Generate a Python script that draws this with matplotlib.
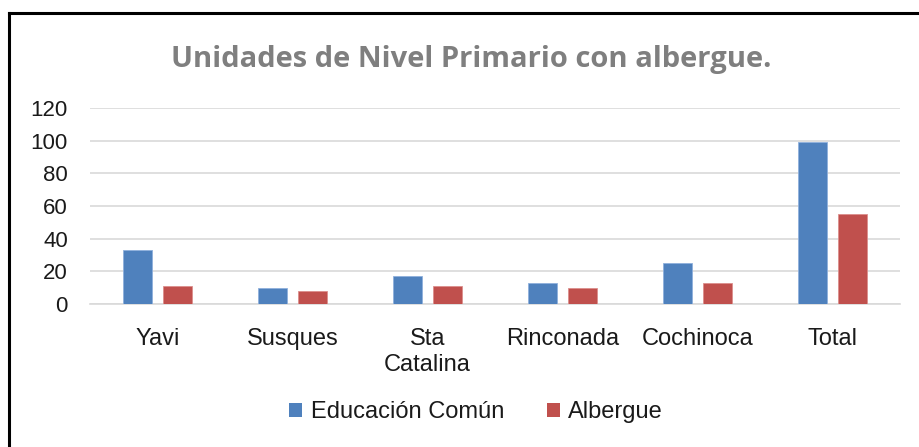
#!/usr/bin/env python3
"""
Unidades de Nivel Primario con albergue - grouped bar chart.
"""

import matplotlib
matplotlib.use('Agg')
import matplotlib.pyplot as plt
from matplotlib.lines import Line2D
from matplotlib.patches import Patch
import numpy as np

# Data
categories = ['Yavi', 'Susques', 'Sta\nCatalina', 'Rinconada', 'Cochinoca', 'Total']
educacion_comun = [33, 10, 17, 13, 25, 99]
albergue = [11, 8, 11, 10, 13, 55]
yticks = [0, 20, 40, 60, 80, 100, 120]

BLUE = '#4f81bd'
RED = '#c0504d'


def main():
    plt.rcParams['font.family'] = ['Liberation Sans', 'DejaVu Sans']

    fig = plt.figure(figsize=(9.2, 4.47), dpi=100)
    ax = fig.add_axes([90 / 920, 143 / 447, 810 / 920, 196 / 447])

    x = np.arange(len(categories))
    width = 0.215
    offset = 0.145
    ax.bar(x - offset, educacion_comun, width, color=BLUE,
           edgecolor='#8fb0dc', linewidth=0.6, zorder=3)
    ax.bar(x + offset, albergue, width, color=RED,
           edgecolor='#dc8f8d', linewidth=0.6, zorder=3)

    ax.set_xlim(-0.5, len(categories) - 0.5)
    ax.set_ylim(0, 120)
    ax.set_yticks(yticks)
    ax.set_xticks(x)
    ax.set_xticklabels(categories, fontsize=17, color='#1a1a1a', linespacing=1.25)
    ax.tick_params(axis='y', labelsize=16, labelcolor='#1a1a1a', length=0, pad=16)
    ax.tick_params(axis='x', length=0, pad=17)

    ax.grid(axis='y', color='#d9d9d9', linewidth=1.2, zorder=0)
    for side in ['top', 'right', 'left']:
        ax.spines[side].set_visible(False)
    ax.spines['bottom'].set_color('#d9d9d9')
    ax.spines['bottom'].set_linewidth(1.2)

    fig.text(471 / 920, 1 - 60 / 447, 'Unidades de Nivel Primario con albergue.',
             ha='center', va='center', fontsize=21, fontweight='bold',
             color='#7f7f7f', family=['Open Sans', 'DejaVu Sans'])

    legend_elements = [
        Patch(facecolor=BLUE, label='Educación Común'),
        Patch(facecolor=RED, label='Albergue'),
    ]
    fig.legend(handles=legend_elements, loc='center', ncol=2,
               bbox_to_anchor=(476 / 920, 1 - 412 / 447), frameon=False,
               fontsize=17, handlelength=0.55, handleheight=0.55,
               handletextpad=0.35, columnspacing=1.8,
               labelcolor='#1a1a1a')

    # Outer border (left and top visible, rest cropped)
    fig.add_artist(Line2D([9 / 920, 9 / 920], [0, 1 - 13 / 447],
                          transform=fig.transFigure, color='black', linewidth=2.2))
    fig.add_artist(Line2D([9 / 920, 1], [1 - 13 / 447, 1 - 13 / 447],
                          transform=fig.transFigure, color='black', linewidth=2.2))

    fig.savefig('out.png', dpi=100)


if __name__ == "__main__":
    main()
